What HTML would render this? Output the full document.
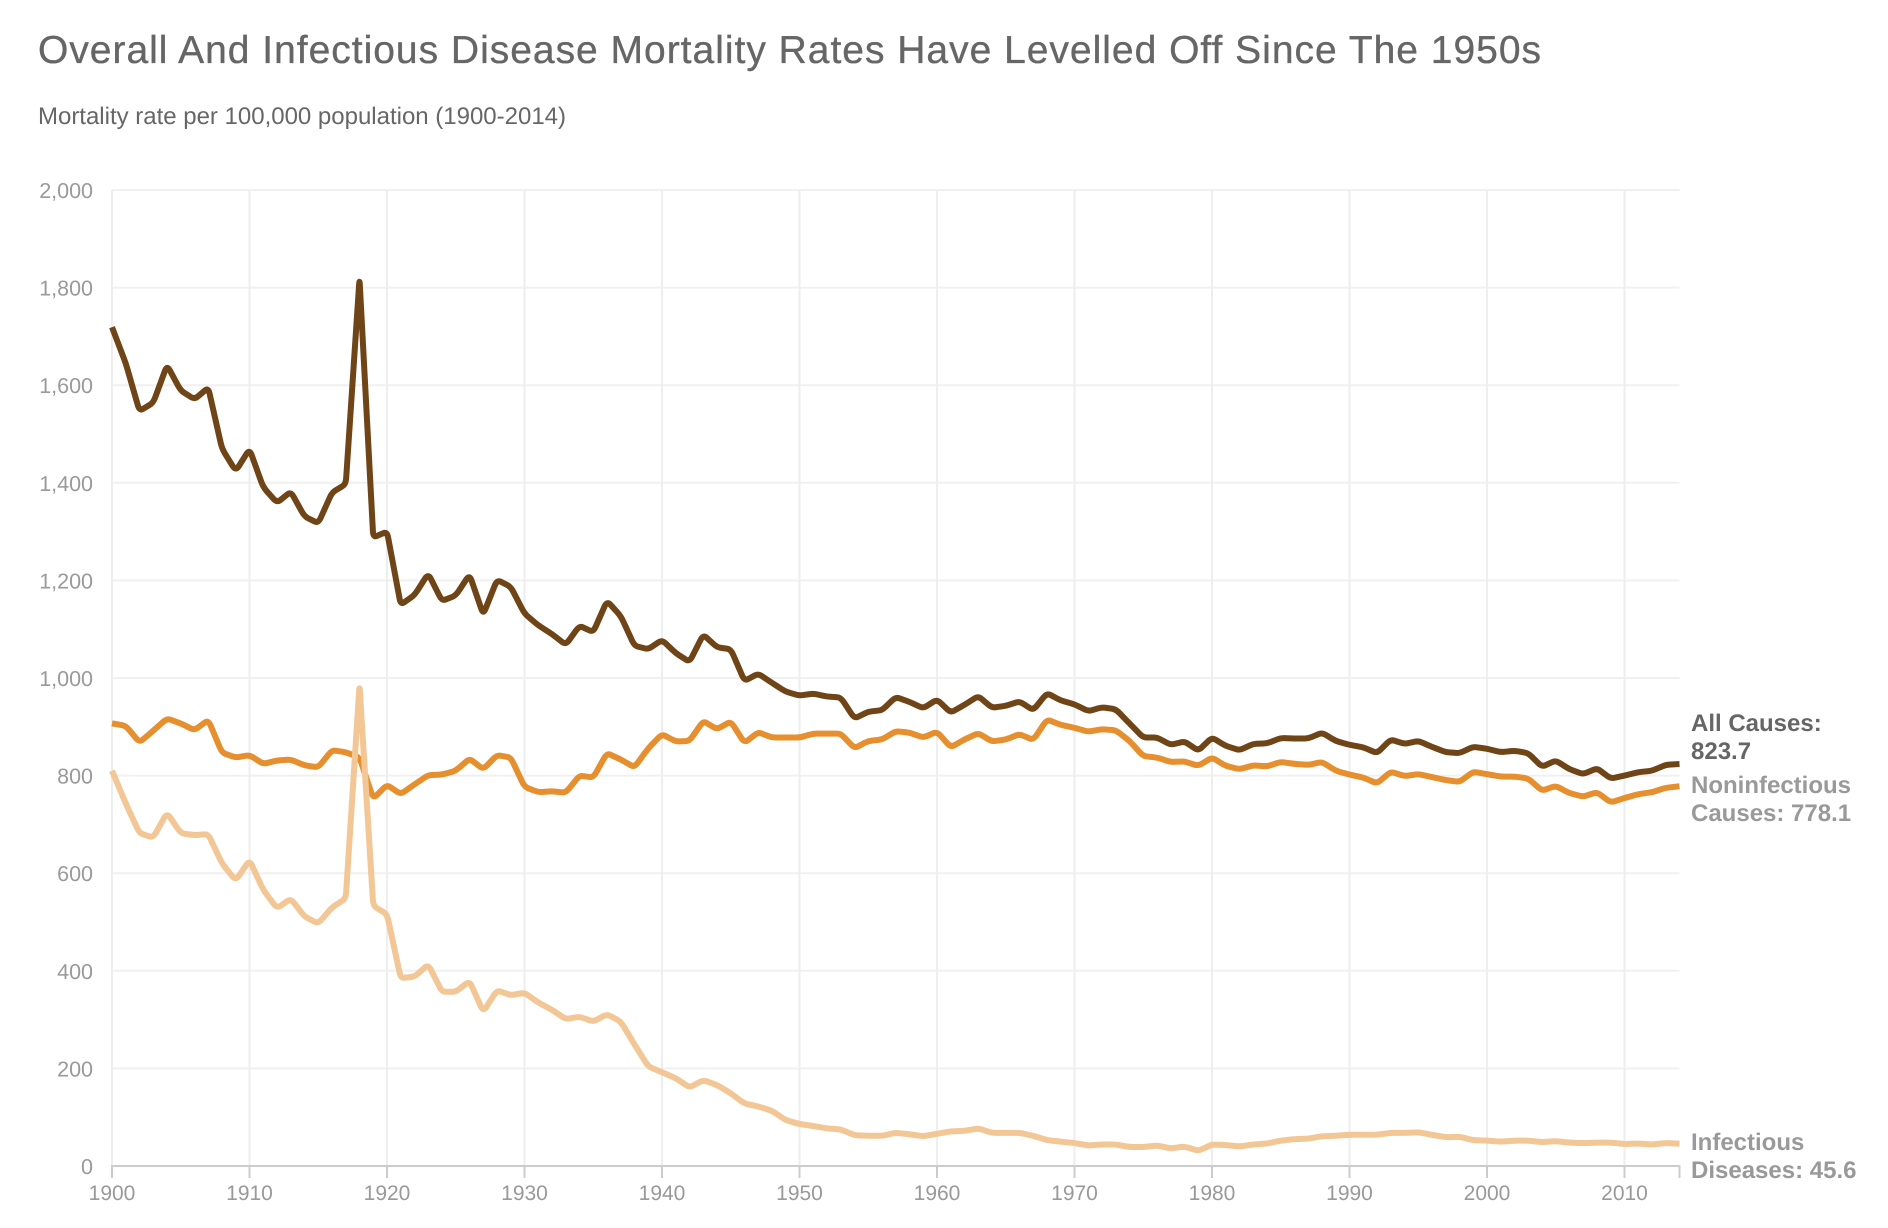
<!DOCTYPE html>
<html lang="en">
<head>
<meta charset="utf-8">
<title>Overall And Infectious Disease Mortality Rates Have Levelled Off Since The 1950s</title>
<style>
html,body{margin:0;padding:0;background:#fff;width:1888px;height:1228px;overflow:hidden}
svg{display:block;font-family:"Liberation Sans",Arial,sans-serif;text-rendering:geometricPrecision}
</style>
</head>
<body>
<svg id="chart" xmlns="http://www.w3.org/2000/svg" width="1888" height="1228" viewBox="0 0 1888 1228">
  <text x="38" y="63" font-size="39" fill="#666666" stroke="#666666" stroke-width="0.35" textLength="1503" lengthAdjust="spacing">Overall And Infectious Disease Mortality Rates Have Levelled Off Since The 1950s</text>
  <text x="38" y="124" font-size="24" fill="#666666" textLength="528" lengthAdjust="spacing">Mortality rate per 100,000 population (1900-2014)</text>
  <g id="grid"></g>
  <g id="xaxis"></g>
  <g id="yaxis"></g>
  <g id="series"></g>
  <g font-size="24" font-weight="bold">
    <text fill="#666666"><tspan x="1691" y="731">All Causes:</tspan><tspan x="1691" y="759">823.7</tspan></text>
    <text fill="#999999"><tspan x="1691" y="793">Noninfectious</tspan><tspan x="1691" y="821">Causes: 778.1</tspan></text>
    <text fill="#999999"><tspan x="1691" y="1150">Infectious</tspan><tspan x="1691" y="1178">Diseases: 45.6</tspan></text>
  </g>
</svg>
<script>
const startYear = 1900;
const endYear = 2014;
const yMax = 2000;
const xTicks = [1900,1910,1920,1930,1940,1950,1960,1970,1980,1990,2000,2010];
const yTicks = [0,200,400,600,800,1000,1200,1400,1600,1800,2000];
const allCauses = [
  1719,1645,1547,1564,1641,1589,1571,1595,1470,1424,
  1469,1391,1359,1382,1331,1317,1380,1397,1818,1288,
  1300,1150,1170,1214,1158,1169,1212,1130,1201,1187,
  1132,1108,1090,1068,1107,1094,1158,1127,1066,1059,
  1078,1051,1033,1089,1063,1059,994,1009,990,972,
  964,968,962,960,917,931,934,961,951,938,
  956,929,945,963,939,943,952,934,969,954,
  946,932,940,936,907,878,878,863,870,851,
  878,861,852,865,866,877,876,876,888,871,
  863,858,846,874,865,871,859,848,846,859,
  855,848,851,846,818,831,813,803,815,794,
  800,807,810,822,823.7
];
const noninfectious = [
  907,902,868,892,917,907,893,914,847,837,
  842,824,831,833,821,817,852,848,837,753,
  781,762,782,801,802,810,835,813,842,837,
  777,766,768,765,800,796,846,833,817,856,
  885,870,871,912,895,911,867,889,878,878,
  878,886,886,886,856,871,874,891,888,878,
  890,858,874,887,870,874,885,873,915,904,
  898,890,895,893,871,840,837,828,829,820,
  837,820,813,821,819,828,824,822,828,810,
  802,796,784,808,799,803,797,791,787,808,
  803,798,798,794,769,779,764,757,766,745,
  754,762,766,775,778.1
];
const infectious = [
  810,743,682,673,724,682,678,680,620,585,
  627,566,528,548,511,497,530,548,985,533,
  516,385,388,413,357,357,379,316,360,350,
  355,335,320,301,306,296,311,296,249,204,
  192,180,161,176,166,149,128,122,113,94,
  86,82,77,75,63,62,62,68,65,61,
  66,71,72,77,68,68,68,62,53,50,
  47,42,44,44,39,39,42,36,40,31,
  44,43,40,44,46,52,55,56,61,62,
  64,64,64,68,68,69,64,59,60,53,
  52,50,52,52,49,51,48,47,48,48,
  45,46,44,47,45.6
];

const NS = 'http://www.w3.org/2000/svg';
const plot = {left:112, right:1679.5, top:190, bottom:1166};
function xScale(year){ return plot.left + (year - startYear) / (endYear - startYear) * (plot.right - plot.left); }
function yScale(v){ return plot.bottom - v / yMax * (plot.bottom - plot.top); }
function mk(tag, attrs, parent){
  const el = document.createElementNS(NS, tag);
  for (const k in attrs) el.setAttribute(k, attrs[k]);
  parent.appendChild(el);
  return el;
}
function toward(a, b, maxFrac, cap){
  const dx = b[0]-a[0], dy = b[1]-a[1];
  const len = Math.sqrt(dx*dx+dy*dy) || 1;
  const d = Math.min(len*maxFrac, cap);
  return [a[0]+dx/len*d, a[1]+dy/len*d];
}
function roundedPath(pts){
  let d = 'M'+pts[0][0].toFixed(2)+','+pts[0][1].toFixed(2);
  for (let i=1;i<pts.length-1;i++){
    const a = toward(pts[i], pts[i-1], 0.25, 6);
    const b = toward(pts[i], pts[i+1], 0.25, 6);
    d += 'L'+a[0].toFixed(2)+','+a[1].toFixed(2);
    d += 'Q'+pts[i][0].toFixed(2)+','+pts[i][1].toFixed(2)+' '+b[0].toFixed(2)+','+b[1].toFixed(2);
  }
  const last = pts[pts.length-1];
  d += 'L'+last[0].toFixed(2)+','+last[1].toFixed(2);
  return d;
}

const grid = document.getElementById('grid');
const xaxis = document.getElementById('xaxis');
const yaxis = document.getElementById('yaxis');
const seriesGroup = document.getElementById('series');

yTicks.forEach(function(v){
  if (v !== 0) {
    const line = mk('line', {x1:plot.left, x2:plot.right, y1:yScale(v), y2:yScale(v), stroke:'#f0f0f0', 'stroke-width':2}, grid);
    
    
  }
  const label = mk('text', {x:93, y:yScale(v)+8, 'text-anchor':'end', 'font-size':21.5, fill:'#999999'}, yaxis);
  label.textContent = v.toLocaleString('en-US');
  
  
});
xTicks.forEach(function(yr){
  const x = xScale(yr);
  const line = mk('line', {x1:x, x2:x, y1:plot.top, y2:plot.bottom, stroke:'#eeeeee', 'stroke-width':2}, grid);
  
  
  const tick = mk('line', {x1:x, x2:x, y1:plot.bottom, y2:plot.bottom+12, stroke:'#cccccc', 'stroke-width':2}, xaxis);
  
  
  const label = mk('text', {x:x, y:1200, 'text-anchor':'middle', 'font-size':21, fill:'#999999'}, xaxis);
  label.textContent = String(yr);
  
  
});
const endTick = mk('line', {x1:plot.right, x2:plot.right, y1:plot.bottom, y2:plot.bottom+12, stroke:'#cccccc', 'stroke-width':2}, xaxis);


const baseline = mk('line', {x1:plot.left-1, x2:plot.right+1, y1:plot.bottom, y2:plot.bottom, stroke:'#cccccc', 'stroke-width':2}, xaxis);



function drawSeries(values, color, name){
  const pts = values.map(function(v,i){ return [xScale(startYear+i), yScale(v)]; });
  const path = mk('path', {d:roundedPath(pts), fill:'none', stroke:color, 'stroke-width':6, 'stroke-linejoin':'round', 'stroke-linecap':'butt'}, seriesGroup);
  
  
}
drawSeries(allCauses, '#6f4518', 'line-all-causes');
drawSeries(noninfectious, '#e68f2e', 'line-noninfectious-causes');
drawSeries(infectious, '#f2c795', 'line-infectious-diseases');
</script>
</body>
</html>
